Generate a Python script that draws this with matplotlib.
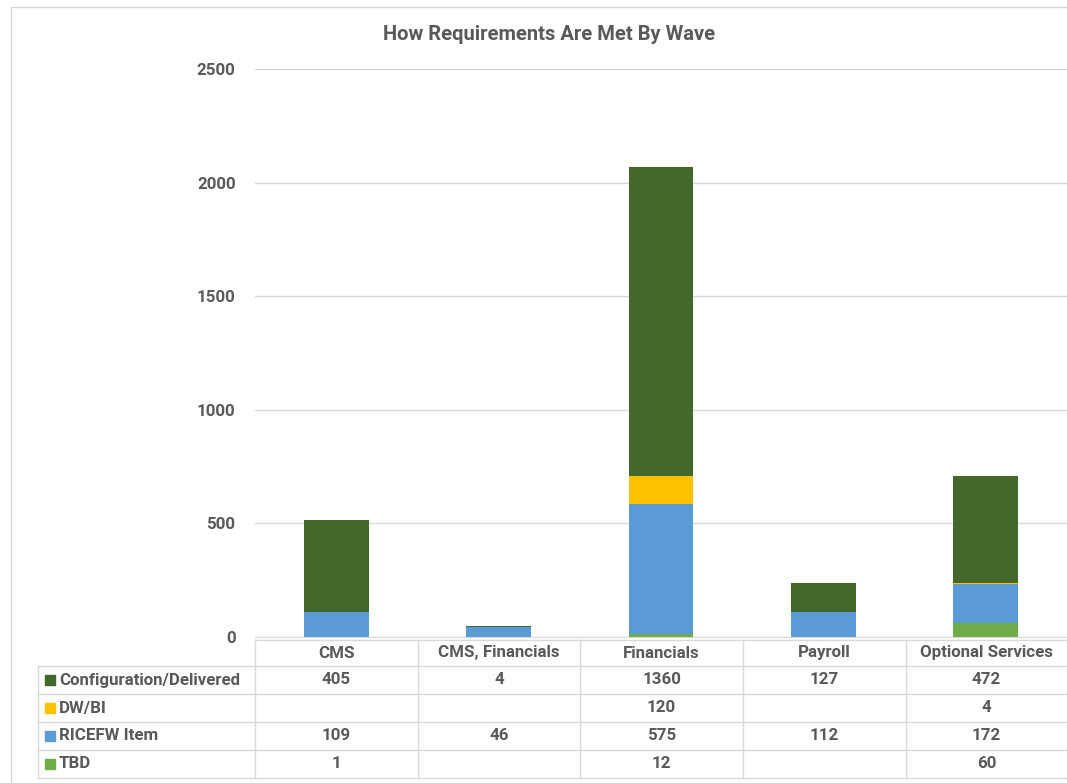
import numpy as np
import matplotlib
matplotlib.use("Agg")
import matplotlib.pyplot as plt
from matplotlib.patches import Rectangle
from matplotlib.lines import Line2D

waves = ["CMS", "CMS, Financials", "Financials", "Payroll", "Optional Services"]
series = ["Configuration/Delivered", "DW/BI", "RICEFW Item", "TBD"]
config = [405, 4, 1360, 127, 472]
dwbi = [None, None, 120, None, 4]
ricefw = [109, 46, 575, 112, 172]
tbd = [1, None, 12, None, 60]
colors = ["#43682B", "#FFC000", "#5B9BD5", "#70AD47"]

grey = "#595959"
line_grey = "#d9d9d9"
plt.rcParams["font.family"] = ["Roboto", "DejaVu Sans"]
fs = 12.2

W, H = 1067, 783
fig = plt.figure(figsize=(W / 100, H / 100), dpi=100)
ax = fig.add_axes([255 / W, 1 - 637 / H, 812 / W, 568 / H])


def px(xp, yp):
    # pixel position (from top-left) -> figure fraction
    return xp / W, 1 - yp / H


# outer chart frame
fig.patches.append(Rectangle((11 / W, -0.1), 1.2, 1 - 7 / H + 0.1,
                             transform=fig.transFigure, fill=False,
                             edgecolor=line_grey, linewidth=1))

x = np.arange(len(waves))
vals = {s: np.array([0 if v is None else v for v in d], dtype=float)
        for s, d in zip(series, [config, dwbi, ricefw, tbd])}

# stacking order bottom -> top: TBD, RICEFW, DW/BI, Config
bottom = np.zeros(len(waves))
for s in ["TBD", "RICEFW Item", "DW/BI", "Configuration/Delivered"]:
    ax.bar(x, vals[s], 0.4, bottom=bottom, color=colors[series.index(s)], zorder=3)
    bottom += vals[s]

ax.set_xlim(-0.5, len(waves) - 0.5)
ax.set_ylim(0, 2500)
ax.set_yticks([0, 500, 1000, 1500, 2000, 2500])
ax.grid(axis="y", color=line_grey, linewidth=1, zorder=0)
for sp in ["top", "right", "left"]:
    ax.spines[sp].set_visible(False)
ax.spines["bottom"].set_color(line_grey)
ax.tick_params(axis="y", length=0, labelsize=fs, labelcolor=grey, pad=14)
ax.tick_params(axis="x", length=0, labelbottom=False)
for lbl in ax.get_yticklabels():
    lbl.set_fontweight("bold")

fig.text(*px(549, 34), "How Requirements Are Met By Wave", fontsize=14.5, color=grey,
         fontweight="bold", ha="center", va="center")

# data table, drawn by hand
col_x = [38, 255, 418, 580, 743, 906, 1067]
row_y = [640, 666, 694, 722, 750, 778]


def hline(y, x0, x1):
    fig.lines.append(Line2D([x0 / W, x1 / W], [1 - y / H, 1 - y / H],
                            transform=fig.transFigure, color=line_grey, lw=1))


def vline(xp, y0, y1):
    fig.lines.append(Line2D([xp / W, xp / W], [1 - y0 / H, 1 - y1 / H],
                            transform=fig.transFigure, color=line_grey, lw=1))


hline(row_y[0], col_x[1], col_x[-1])
for y in row_y[1:]:
    hline(y, col_x[0], col_x[-1])
vline(col_x[0], row_y[1], row_y[-1])
for xp in col_x[1:]:
    vline(xp, row_y[0], row_y[-1])

for j, w in enumerate(waves):
    cx = (col_x[j + 1] + col_x[j + 2]) / 2
    cy = (row_y[0] + row_y[1]) / 2
    fig.text(*px(cx, cy), w, ha="center", va="center", fontsize=fs,
             fontweight="bold", color=grey)

for i, (s, d) in enumerate(zip(series, [config, dwbi, ricefw, tbd])):
    cy = (row_y[i + 1] + row_y[i + 2]) / 2
    fig.patches.append(Rectangle(px(45, cy + 5), 10 / W, 10 / H,
                                 transform=fig.transFigure, color=colors[i]))
    fig.text(*px(59, cy), s, ha="left", va="center", fontsize=fs,
             fontweight="bold", color=grey)
    for j, v in enumerate(d):
        if v is None:
            continue
        cx = (col_x[j + 1] + col_x[j + 2]) / 2
        fig.text(*px(cx, cy), str(v), ha="center", va="center", fontsize=fs,
                 fontweight="bold", color=grey)

fig.savefig("out.png", dpi=100)
